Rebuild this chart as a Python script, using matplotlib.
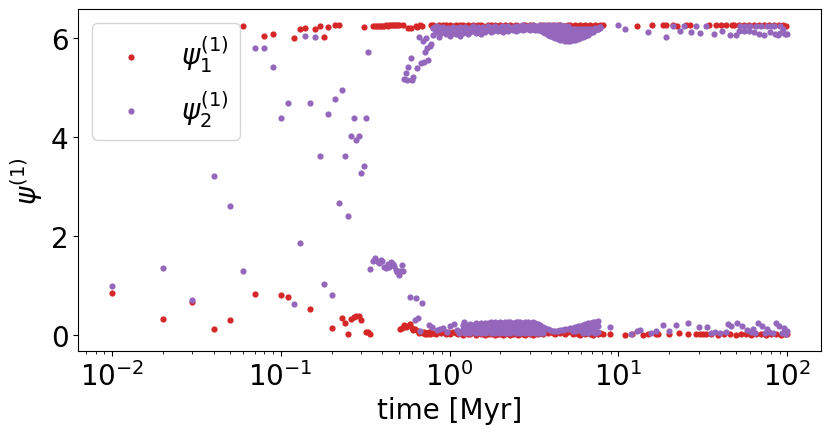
import numpy as np
import matplotlib.pyplot as plt

nan = np.nan

# early times, one value per series per output
t_early = [0.01, 0.02, 0.03, 0.04, 0.05, 0.06, 0.07, 0.08, 0.09, 0.10,
           0.11, 0.12, 0.13, 0.14, 0.15, 0.16, 0.17, 0.18, 0.19, 0.20,
           0.21, 0.22, 0.23, 0.24, 0.25, 0.26, 0.27, 0.28, 0.29, 0.30,
           0.31, 0.32, 0.33, 0.34]
psi1_early = [0.85, 0.33, 0.67, 0.12, 0.31, 6.26, 0.83, 6.05, 6.09, 0.82,
              0.78, 6.01, 6.18, 6.21, 0.53, 6.18, 6.25, 6.03, 6.23, 0.14,
              6.27, 6.27, 0.35, 0.25, 0.03, 0.33, 0.37, 0.40, 0.40, 0.32,
              6.23, 0.06, 0.07, 0.02]
psi2_early = [1.00, 1.36, 0.72, 3.23, 2.62, 1.30, 5.80, 5.80, 5.42, 4.39,
              4.70, 0.64, 1.87, 6.04, 4.70, 6.03, 3.62, 1.03, 4.47, 0.81,
              4.78, 2.68, 4.95, 3.62, 2.42, 4.02, 4.40, 3.94, 4.02, 3.28,
              3.43, 4.40, 5.73, 1.34]

t_mid = [0.35, 0.36, 0.37, 0.38, 0.39, 0.40, 0.41, 0.42, 0.43, 0.44,
         0.45, 0.46, 0.47, 0.48, 0.49, 0.50, 0.51, 0.52, 0.53, 0.54,
         0.55, 0.56, 0.57, 0.58, 0.59, 0.60, 0.61, 0.62, 0.63, 0.64,
         0.65, 0.66, 0.67, 0.68, 0.69, 0.70, 0.71, 0.72, 0.73, 0.74,
         0.75, 0.76, 0.77, 0.78, 0.79]
psi1_mid = [6.25, 6.25, 6.26, 6.25, 6.26, 6.26, 6.26, 6.27, 6.26, 6.27,
            6.27, 6.28, 6.27, 6.28, 6.28, 6.27, 0.12, 0.14, 6.28, 0.20,
            0.16, 0.18, 6.22, 0.22, 6.22, 0.14, 0.11, 0.13, 6.26, 6.23,
            0.08, 0.05, 6.28, 0.06, 6.25, 0.04, 0.07, 0.03, 0.05, 0.02,
            0.04, 0.06, 0.03, 6.28, 0.05]
psi2_mid = [1.51, 1.57, 1.51, 1.46, 1.53, 1.50, 1.38, 1.36, 1.45, 1.38,
            1.48, 1.44, 1.40, 1.33, 1.28, 1.21, 1.31, 1.42, 1.30, 5.18,
            5.30, 5.15, 5.42, 0.77, 5.61, 5.15, 5.23, 0.31, 0.76, 5.40,
            0.35, 6.02, 0.09, 5.51, 0.66, 5.95, 5.53, 5.73, 6.00, 5.80,
            5.57, 0.21, 5.84, 5.88, 0.16]

t_pur_extra = [0.80, 0.83, 0.84, 0.88, 0.92, 0.97, 1.01, 1.06, 1.11, 1.13, 1.16, 1.21]
psi2_extra = [6.21, 6.26, 0.11, 0.12, 0.14, 0.07, 0.19, 0.23, 0.11, 0.04, 0.07, 0.28]

# dense part of the run (bands near 0 and near 2pi)
t_dense = [0.80, 0.83, 0.86, 0.89, 0.92, 0.95, 0.98, 1.01, 1.05, 1.09,
           1.12, 1.16, 1.20, 1.24, 1.29, 1.33, 1.38, 1.43, 1.47, 1.53,
           1.58, 1.63, 1.69, 1.75, 1.81, 1.87, 1.94, 2.00, 2.07, 2.14,
           2.22, 2.29, 2.37, 2.46, 2.54, 2.63, 2.72, 2.81, 2.91, 3.01,
           3.12, 3.22, 3.34, 3.45, 3.57, 3.69, 3.82, 3.95, 4.09, 4.23,
           4.38, 4.53, 4.69, 4.85, 5.02, 5.19, 5.37, 5.56, 5.75, 5.95,
           6.15, 6.37, 6.59, 6.81, 7.05, 7.29, 7.55, 7.81, 8.08]
psi1_top = [6.27, 6.24, 6.28, 6.25, 6.27, 6.28, 6.23, 6.27, 6.26, 6.28,
            6.25, 6.27, 6.28, 6.24, 6.27, 6.26, 6.28, 6.25, 6.27, 6.28,
            6.26, 6.24, 6.28, 6.27, 6.25, 6.28, 6.26, 6.27, 6.24, 6.28,
            6.26, 6.27, 6.25, 6.28, 6.26, 6.24, 6.27, 6.28, 6.25, 6.27,
            6.28, 6.26, 6.24, 6.27, 6.28, 6.25, 6.27, 6.26, 6.28, 6.24,
            6.27, 6.28, 6.25, 6.26, 6.28, 6.27, 6.24, 6.28, 6.26, 6.27,
            6.25, 6.28, 6.26, 6.27, 6.24, 6.28, 6.26, 6.27, 6.28]
psi1_bot = [0.05, 0.02, 0.08, 0.04, 0.10, 0.03, 0.06, 0.02, 0.07, 0.04,
            0.03, 0.06, 0.01, 0.05, 0.03, 0.02, 0.06, 0.01, 0.04, 0.02,
            0.05, 0.01, 0.03, 0.02, 0.04, 0.01, 0.02, 0.03, 0.01, 0.02,
            0.04, 0.01, 0.03, 0.02, 0.01, 0.03, 0.02, 0.01, 0.04, 0.02,
            0.01, 0.03, 0.02, 0.05, 0.03, 0.07, 0.04, 0.09, 0.05, 0.02,
            0.08, 0.04, 0.10, 0.03, 0.06, 0.09, 0.02, 0.05, 0.03, 0.01,
            0.04, 0.02, 0.06, 0.03, 0.01, 0.05, 0.02, 0.04, 0.03]
psi2_top_a = [6.22, 6.19, 6.24, 6.20, 6.23, 6.18, 6.22, 6.20, 6.24, 6.21,
              6.19, 6.23, 6.21, 6.24, 6.20, 6.22, 6.25, 6.21, 6.23, 6.20,
              6.24, 6.22, 6.25, 6.21, 6.23, 6.25, 6.22, 6.24, 6.26, 6.23,
              6.25, 6.22, 6.24, 6.26, 6.23, 6.25, 6.27, 6.24, 6.26, 6.25,
              6.27, 6.25, 6.26, 6.27, 6.26, 6.27, 6.26, 6.27, 6.26, 6.27,
              6.26, 6.27, 6.26, 6.25, 6.26, 6.20, 6.19, 6.20, 6.18, 6.19,
              6.18, 6.19, 6.18, 6.20, 6.19, 6.21, 6.22, 6.24, nan]
psi2_top_b = [6.06, 6.12, 6.03, 6.10, 6.14, 6.08, 6.12, 6.05, 6.11, 6.09,
              6.13, 6.04, 6.10, 6.14, 6.08, 6.12, 6.15, 6.10, 6.13, 6.09,
              6.14, 6.12, 6.16, 6.13, 6.15, 6.17, 6.14, 6.16, 6.13, 6.17,
              6.15, 6.18, 6.16, 6.14, 6.17, 6.19, 6.16, 6.18, 6.20, 6.17,
              6.18, 6.17, 6.16, 6.16, 6.17, 6.15, 6.16, 6.15, 6.16, 6.15,
              6.16, 6.15, 6.16, 6.15, 6.14, 6.15, 6.14, 6.13, 6.14, 6.13,
              6.14, 6.13, 6.15, 6.16, 6.17, 6.18, 6.19, 6.21, nan]
psi2_top_c = [nan, nan, nan, nan, nan, nan, nan, nan, nan, nan,
              nan, nan, nan, nan, nan, nan, nan, nan, nan, nan,
              nan, nan, nan, nan, nan, nan, nan, nan, nan, nan,
              nan, nan, nan, nan, nan, nan, nan, nan, nan, nan,
              nan, nan, 6.18, 6.16, 6.13, 6.10, 6.07, 6.04, 6.02, 6.00,
              5.98, 5.97, 5.96, 5.95, 5.95, 5.95, 5.96, 5.97, 5.98, 6.00,
              6.02, 6.04, 6.07, 6.10, 6.13, 6.16, 6.20, 6.23, nan]
psi2_top_d = [nan, nan, nan, nan, nan, nan, nan, nan, nan, nan,
              nan, nan, nan, nan, nan, nan, nan, nan, nan, nan,
              nan, nan, nan, nan, nan, nan, nan, nan, nan, nan,
              nan, nan, nan, nan, nan, nan, nan, nan, nan, nan,
              nan, nan, nan, nan, nan, nan, 6.09, 6.07, 6.06, 6.05,
              6.05, 6.04, 6.05, 6.04, 6.05, 6.04, 6.05, 6.06, 6.07, 6.08,
              6.09, 6.10, 6.12, nan, nan, nan, nan, nan, nan]
psi2_bot_a = [nan, nan, nan, nan, nan, nan, nan, nan, nan, nan,
              nan, nan, 0.20, 0.22, 0.19, 0.23, 0.21, 0.24, 0.22, 0.25,
              0.23, 0.26, 0.24, 0.27, 0.25, 0.27, 0.26, 0.28, 0.26, 0.28,
              0.27, 0.28, 0.26, 0.28, 0.27, 0.28, 0.26, 0.27, 0.28, 0.26,
              0.27, 0.25, 0.23, 0.20, 0.17, 0.15, 0.13, 0.10, 0.08, 0.08,
              0.09, 0.10, 0.11, 0.12, 0.13, 0.14, 0.15, 0.17, 0.18, 0.19,
              0.21, 0.23, 0.25, 0.26, 0.27, 0.28, 0.29, nan, nan]
psi2_bot_b = [nan, nan, nan, nan, nan, nan, nan, nan, nan, nan,
              nan, nan, 0.12, 0.15, 0.11, 0.14, 0.12, 0.15, 0.13, 0.16,
              0.14, 0.16, 0.13, 0.15, 0.17, 0.14, 0.16, 0.15, 0.17, 0.14,
              0.16, 0.15, 0.17, 0.14, 0.16, 0.15, 0.17, 0.16, 0.15, 0.17,
              0.15, 0.14, 0.12, 0.11, 0.09, nan, nan, nan, nan, nan,
              nan, nan, nan, nan, nan, nan, 0.08, 0.09, 0.10, 0.11,
              0.12, 0.13, 0.14, 0.15, 0.16, 0.17, 0.18, nan, nan]
psi2_bot_c = [nan, nan, nan, nan, nan, nan, nan, nan, nan, nan,
              nan, nan, 0.06, 0.04, 0.07, 0.05, 0.08, 0.04, 0.06, 0.05,
              0.07, 0.04, 0.06, 0.05, 0.07, 0.05, 0.06, 0.04, 0.06, 0.05,
              0.06, 0.05, 0.07, 0.05, 0.06, 0.04, 0.06, 0.05, 0.07, 0.05,
              0.06, 0.05, 0.05, 0.04, 0.05, nan, nan, nan, nan, nan,
              nan, nan, nan, nan, nan, nan, nan, nan, nan, nan,
              0.05, 0.06, 0.05, 0.07, 0.06, 0.05, 0.07, nan, nan]

# late, sparse outputs
t1_late = [8.96, 10.9, 12.1, 12.9, 13.9, 14.9, 15.9, 16.6, 17.1, 18.3,
           19.2, 20.0, 21.0, 22.2, 23.0, 25.1, 25.9, 26.7, 28.9, 30.6,
           31.5, 32.8, 34.2, 35.5, 37.6, 39.0, 40.4, 42.0, 43.6, 45.5,
           47.0, 48.2, 50.0, 51.6, 53.5, 55.2, 57.0, 59.1, 61.0, 63.3,
           65.5, 67.7, 70.0, 72.5, 75.0, 77.6, 80.5, 83.1, 86.0, 89.0,
           91.5, 94.4, 97.0, 98.8, 100.0]
psi1_late = [0.02, 0.01, 0.02, 6.26, 0.00, 0.02, 6.27, 0.02, 0.02, 6.28,
             6.28, 0.02, 6.28, 6.25, 0.05, 6.28, 0.02, 6.28, 0.03, 0.02,
             0.02, 0.03, 6.27, 0.02, 6.28, 0.01, 6.28, 0.03, 6.28, 0.02,
             6.28, 6.27, 0.01, 6.28, 0.03, 6.27, 0.02, 6.28, 0.01, 6.27,
             0.03, 6.28, 0.02, 6.27, 0.01, 6.28, 0.03, 6.27, 0.02, 6.28,
             0.01, 6.27, 0.03, 6.25, 0.02]
t2_late = [10.0, 10.9, 14.9, 19.2, 21.0, 23.1, 24.4, 26.9, 28.7, 30.6,
           32.8, 37.0, 40.9, 46.0, 50.0, 51.6, 52.5, 55.2, 56.5, 59.1,
           60.5, 63.3, 65.0, 67.7, 70.0, 72.5, 75.5, 78.6, 80.5, 83.0,
           85.0, 88.0, 90.0, 91.0, 94.0, 97.5, 99.6,
           8.96, 11.8, 12.9, 13.4, 15.5, 16.6, 18.3, 19.8, 22.0, 25.9,
           30.0, 33.3, 35.5, 37.5, 40.0, 43.6, 44.5, 46.5, 50.4, 53.8,
           58.0, 61.0, 62.5, 64.5, 67.0, 70.5, 73.5, 75.5, 78.0, 82.0,
           86.0, 89.0, 93.0, 96.0, 98.0, 100.0]
psi2_late = [6.27, 6.18, 6.12, 6.02, 6.26, 6.15, 6.25, 6.13, 6.26, 6.10,
             6.26, 6.09, 6.14, 6.06, 6.06, 6.14, 6.26, 6.15, 6.25, 6.14,
             6.26, 6.12, 6.25, 6.08, 6.26, 6.07, 6.25, 6.12, 6.26, 6.25,
             6.09, 6.07, 6.26, 6.10, 6.20, 6.09, 6.08,
             0.17, 0.02, 0.08, 0.11, 0.04, 0.08, 0.20, 0.08, 0.20, 0.25,
             0.17, 0.17, 0.05, 0.06, 0.04, 0.07, 0.22, 0.19, 0.25, 0.19,
             0.10, 0.06, 0.13, 0.05, 0.25, 0.19, 0.04, 0.12, 0.06, 0.04,
             0.25, 0.19, 0.05, 0.14, 0.03, 0.09]

t1 = np.concatenate([t_early, t_mid, t_dense, t_dense, t1_late])
psi1 = np.concatenate([psi1_early, psi1_mid, psi1_top, psi1_bot, psi1_late])
t2 = np.concatenate([t_early, t_mid, t_pur_extra] + [t_dense] * 7 + [t2_late])
psi2 = np.concatenate([psi2_early, psi2_mid, psi2_extra,
                       psi2_top_a, psi2_top_b, psi2_top_c, psi2_top_d,
                       psi2_bot_a, psi2_bot_b, psi2_bot_c, psi2_late])

fig, ax = plt.subplots(figsize=(8.31, 4.35), dpi=100)
fig.subplots_adjust(left=0.094, right=0.988, bottom=0.191, top=0.977)

ax.scatter(t1, psi1, s=20, color='tab:red', linewidths=0, label=r'$\psi_1^{(1)}$')
ax.scatter(t2, psi2, s=20, color='tab:purple', linewidths=0, label=r'$\psi_2^{(1)}$')
ax.set_xscale('log')
ax.set_yticks([0, 2, 4, 6])
ax.set_xlabel('time [Myr]', fontsize=20)
ax.set_ylabel(r'$\psi^{(1)}$', fontsize=20)
ax.tick_params(labelsize=20)
ax.legend(loc='upper left', fontsize=20)

fig.savefig('out.png')
